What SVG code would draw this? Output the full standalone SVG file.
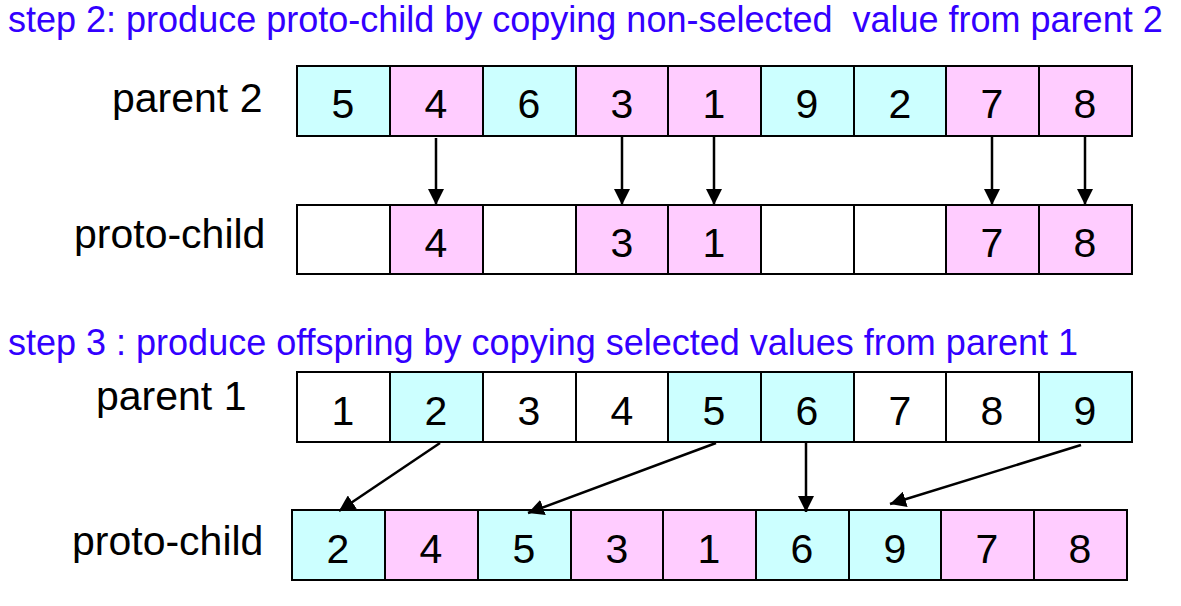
<svg xmlns="http://www.w3.org/2000/svg" width="1181" height="606" viewBox="0 0 1181 606">
<defs>
<style>
.title{font-family:"Liberation Sans",Arial,sans-serif;font-size:36px;fill:#3300FF}
.lbl{font-family:"Liberation Sans",Arial,sans-serif;font-size:41px;fill:#000}
.num{font-family:"Liberation Sans",Arial,sans-serif;font-size:41px;fill:#000;text-anchor:middle}
.c{fill:#CCFFFF;stroke:#000;stroke-width:2}
.p{fill:#FFCCFF;stroke:#000;stroke-width:2}
.w{fill:#FFFFFF;stroke:#000;stroke-width:2}
.conn line{stroke:#000;stroke-width:2.5;marker-end:url(#ah)}
</style>
<marker id="ah" viewBox="0 0 16 16" markerWidth="16" markerHeight="16" markerUnits="userSpaceOnUse" refX="16" refY="8" orient="auto">
<path d="M0,0 L16,8 L0,16 z" fill="#000"/>
</marker>
</defs>
<rect width="1181" height="606" fill="#fff"/>
<text class="title" x="8" y="32" xml:space="preserve">step 2: produce proto-child by copying non-selected  value from parent 2</text>
<text class="title" x="8" y="355" xml:space="preserve">step 3 : produce offspring by copying selected values from parent 1</text>

<g id="parent2">
<text class="lbl" x="112" y="112">parent 2</text>
<rect class="c" x="297" y="66" width="93" height="70"/><text class="num" x="343" y="118">5</text>
<rect class="p" x="390" y="66" width="93" height="70"/><text class="num" x="436" y="118">4</text>
<rect class="c" x="483" y="66" width="93" height="70"/><text class="num" x="529" y="118">6</text>
<rect class="p" x="576" y="66" width="92" height="70"/><text class="num" x="622" y="118">3</text>
<rect class="p" x="668" y="66" width="93" height="70"/><text class="num" x="714" y="118">1</text>
<rect class="c" x="761" y="66" width="93" height="70"/><text class="num" x="807" y="118">9</text>
<rect class="c" x="854" y="66" width="92" height="70"/><text class="num" x="900" y="118">2</text>
<rect class="p" x="946" y="66" width="93" height="70"/><text class="num" x="992" y="118">7</text>
<rect class="p" x="1039" y="66" width="93" height="70"/><text class="num" x="1085" y="118">8</text>
</g>

<g id="protochild1">
<text class="lbl" x="74" y="248">proto-child</text>
<rect class="w" x="297" y="205" width="93" height="69"/>
<rect class="p" x="390" y="205" width="93" height="69"/><text class="num" x="436" y="257">4</text>
<rect class="w" x="483" y="205" width="93" height="69"/>
<rect class="p" x="576" y="205" width="92" height="69"/><text class="num" x="622" y="257">3</text>
<rect class="p" x="668" y="205" width="93" height="69"/><text class="num" x="714" y="257">1</text>
<rect class="w" x="761" y="205" width="93" height="69"/>
<rect class="w" x="854" y="205" width="92" height="69"/>
<rect class="p" x="946" y="205" width="93" height="69"/><text class="num" x="992" y="257">7</text>
<rect class="p" x="1039" y="205" width="93" height="69"/><text class="num" x="1085" y="257">8</text>
</g>

<g id="parent1">
<text class="lbl" x="96" y="410">parent 1</text>
<rect class="w" x="297" y="372" width="93" height="70"/><text class="num" x="343" y="425">1</text>
<rect class="c" x="390" y="372" width="93" height="70"/><text class="num" x="436" y="425">2</text>
<rect class="w" x="483" y="372" width="93" height="70"/><text class="num" x="529" y="425">3</text>
<rect class="w" x="576" y="372" width="92" height="70"/><text class="num" x="622" y="425">4</text>
<rect class="c" x="668" y="372" width="93" height="70"/><text class="num" x="714" y="425">5</text>
<rect class="c" x="761" y="372" width="93" height="70"/><text class="num" x="807" y="425">6</text>
<rect class="w" x="854" y="372" width="92" height="70"/><text class="num" x="900" y="425">7</text>
<rect class="w" x="946" y="372" width="93" height="70"/><text class="num" x="992" y="425">8</text>
<rect class="c" x="1039" y="372" width="93" height="70"/><text class="num" x="1085" y="425">9</text>
</g>

<g id="offspring">
<text class="lbl" x="72" y="555">proto-child</text>
<rect class="c" x="292" y="510" width="93" height="70"/><text class="num" x="338" y="563">2</text>
<rect class="p" x="385" y="510" width="93" height="70"/><text class="num" x="431" y="563">4</text>
<rect class="c" x="478" y="510" width="93" height="70"/><text class="num" x="524" y="563">5</text>
<rect class="p" x="571" y="510" width="92" height="70"/><text class="num" x="617" y="563">3</text>
<rect class="p" x="663" y="510" width="93" height="70"/><text class="num" x="709" y="563">1</text>
<rect class="c" x="756" y="510" width="93" height="70"/><text class="num" x="802" y="563">6</text>
<rect class="c" x="849" y="510" width="92" height="70"/><text class="num" x="895" y="563">9</text>
<rect class="p" x="941" y="510" width="93" height="70"/><text class="num" x="987" y="563">7</text>
<rect class="p" x="1034" y="510" width="93" height="70"/><text class="num" x="1080" y="563">8</text>
</g>

<g id="connectors" class="conn">
<line x1="436" y1="138" x2="436" y2="205"/>
<line x1="622" y1="137" x2="622" y2="205"/>
<line x1="714" y1="137" x2="714" y2="205"/>
<line x1="992" y1="137" x2="992" y2="205"/>
<line x1="1085" y1="137" x2="1085" y2="205"/>
<line x1="440" y1="443" x2="339" y2="511"/>
<line x1="716" y1="443" x2="528" y2="513"/>
<line x1="806" y1="443" x2="806" y2="512"/>
<line x1="1081" y1="445" x2="890" y2="504"/>
</g>
</svg>
